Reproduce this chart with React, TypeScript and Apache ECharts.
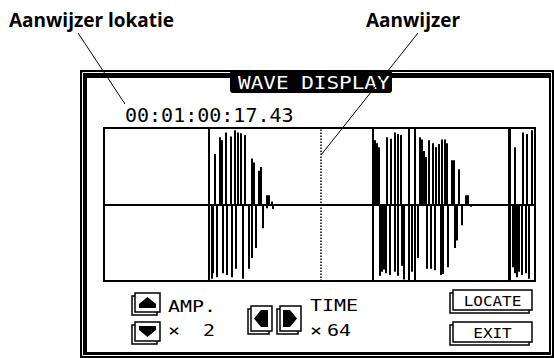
import React, { useEffect, useRef } from "react";
import * as echarts from "echarts";

// Waveform samples: time = pixel column inside the display window (0..431), amplitude -1..1
const upTimes = [111, 116, 118, 122, 127, 131, 134, 137, 141, 148, 150, 155, 157, 163, 165, 168,
  271, 273, 275, 283, 287, 291, 294, 297, 316, 318, 320, 322, 325, 329, 332, 335, 338, 341, 343, 348, 350, 355, 362, 364,
  411, 419, 423, 428];
const upAmps = [0.66, 0.88, 0.84, 0.94, 0.89, 0.97, 0.94, 0.93, 0.91, 0.6, 0.55, 0.44, 0.49, 0.12, 0.12, 0.04,
  0.84, 0.8, 0.75, 0.88, 0.86, 0.94, 0.92, 0.91, 0.88, 0.85, 0.7, 0.62, 0.84, 0.8, 0.75, 0.79, 0.85, 0.85, 0.8, 0.58, 0.58, 0.46, 0.12, 0.12,
  0.75, 0.94, 0.92, 0.97];
const downTimes = [108, 109, 113, 119, 123, 128, 132, 139, 145, 148, 152, 159, 163, 169,
  276, 278, 280, 282, 286, 291, 294, 298, 300, 308, 314, 323, 327, 331, 337, 339, 344, 351, 353, 358, 367,
  409, 411, 413, 415, 418, 422, 425];
const downAmps = [-0.97, -0.9, -0.95, -0.9, -0.92, -0.95, -0.84, -0.97, -0.84, -0.7, -0.57, -0.31, -0.05, -0.06,
  -0.93, -0.88, -0.85, -0.9, -0.92, -0.88, -0.93, -0.8, -0.98, -0.88, -0.7, -0.84, -0.84, -0.86, -0.92, -0.91, -0.82, -0.57, -0.47, -0.27, -0.03,
  -0.82, -0.9, -0.95, -0.88, -0.92, -0.9, -0.97];
const clipEdges = [105, 269, 305, 311, 405, 406];
const cursorTime = 217;
const timeMax = 431;

const timecode = "00:01:00:17.43";
const titleText = "WAVE DISPLAY";
const labelLocation = "Aanwijzer lokatie";
const labelCursor = "Aanwijzer";
const ampLabel = "AMP.";
const ampValue = "2";
const timeLabel = "TIME";
const timeValue = "64";

const LCD = "'DejaVu Sans Mono', monospace";

function lcdText(x: number, y: number, text: string, size: number, sy: number, fill = "#000", align = "left") {
  return {
    type: "text",
    x,
    y,
    scaleY: sy,
    z: 50,
    style: { text, fill, fontFamily: LCD, fontSize: size, textAlign: align, textVerticalAlign: "middle", verticalAlign: "middle" },
  };
}

function button(x: number, y: number, w: number, h: number) {
  return [
    { type: "rect", z: 20, shape: { x: x - 3, y: y + 3, width: w, height: h }, style: { fill: "#fff", stroke: "#000", lineWidth: 1.5 } },
    { type: "rect", z: 21, shape: { x, y, width: w, height: h }, style: { fill: "#fff", stroke: "#000", lineWidth: 1.5 } },
  ];
}

export default function App() {
  const ref = useRef<HTMLDivElement>(null);
  useEffect(() => {
    if (!ref.current) return;
    const chart = echarts.init(ref.current, undefined, { renderer: "svg" });
    const up = upTimes.map((t, i) => [t, upAmps[i]]);
    const down = downTimes.map((t, i) => [t, downAmps[i]]);
    const edges: number[][] = [];
    clipEdges.forEach((t) => { edges.push([t, 1]); edges.push([t, -1]); });

    const graphic: any[] = [
      // LCD frame
      { type: "rect", z: -10, shape: { x: 80, y: 70, width: 474, height: 288 }, style: { fill: "#000" } },
      { type: "rect", z: -9, shape: { x: 82.5, y: 72.5, width: 469, height: 283 }, style: { fill: "none", stroke: "#fff", lineWidth: 1 } },
      { type: "rect", z: -8, shape: { x: 87, y: 78, width: 462, height: 274 }, style: { fill: "#fff" } },
      // title tab
      { type: "rect", z: 30, shape: { x: 230, y: 71, width: 162, height: 22, r: [0, 0, 3, 3] }, style: { fill: "#000" } },
      lcdText(238, 83, titleText, 21, 0.8, "#fff"),
      lcdText(125, 114.5, timecode, 20, 1),
      // amp buttons
      ...button(135, 293, 25, 19),
      ...button(135, 322, 25, 19),
      { type: "polygon", z: 25, shape: { points: [[139, 308], [139, 304], [147.5, 297], [156, 304], [156, 308]] }, style: { fill: "#000" } },
      { type: "polygon", z: 25, shape: { points: [[139, 326], [156, 326], [156, 330], [147.5, 337], [139, 330]] }, style: { fill: "#000" } },
      lcdText(168, 307, ampLabel, 20, 0.75),
      lcdText(168, 331, "×", 20, 0.75),
      lcdText(203, 331, ampValue, 20, 0.75),
      // time buttons
      ...button(251, 306, 21, 25),
      ...button(280, 306, 21, 25),
      { type: "polygon", z: 25, shape: { points: [[254, 318.5], [261, 310], [268, 310], [268, 327], [261, 327]] }, style: { fill: "#000" } },
      { type: "polygon", z: 25, shape: { points: [[297, 318.5], [290, 310], [283, 310], [283, 327], [290, 327]] }, style: { fill: "#000" } },
      lcdText(310, 306, timeLabel, 20, 0.75),
      lcdText(310, 331, "×", 20, 0.75),
      lcdText(327, 331, timeValue, 20, 0.75),
      // LOCATE / EXIT
      ...button(453, 290, 79, 20),
      ...button(453, 322, 79, 20),
      lcdText(492.5, 300.5, "LOCATE", 16, 0.85, "#000", "center"),
      lcdText(492.5, 332.5, "EXIT", 16, 0.85, "#000", "center"),
      // callouts
      { type: "text", z: 60, x: 9, y: 20, style: { text: labelLocation, fill: "#000", fontFamily: "'Open Sans', sans-serif", fontWeight: 700, fontSize: 19, textVerticalAlign: "middle", verticalAlign: "middle" } },
      { type: "text", z: 60, x: 366, y: 20, style: { text: labelCursor, fill: "#000", fontFamily: "'Open Sans', sans-serif", fontWeight: 700, fontSize: 19, textVerticalAlign: "middle", verticalAlign: "middle" } },
      { type: "line", z: 60, shape: { x1: 78, y1: 33, x2: 125, y2: 104 }, style: { stroke: "#000", lineWidth: 1 } },
      { type: "line", z: 60, shape: { x1: 418, y1: 33, x2: 321, y2: 155 }, style: { stroke: "#000", lineWidth: 1 } },
    ];

    chart.setOption({
      animation: false,
      grid: { left: 104, top: 128, width: 431, height: 153, show: true, borderColor: "#000", borderWidth: 2, backgroundColor: "transparent", z: 5 },
      xAxis: {
        type: "value", min: 0, max: timeMax,
        axisLine: { show: true, onZero: true, lineStyle: { color: "#000", width: 2 } },
        axisTick: { show: false }, axisLabel: { show: false }, splitLine: { show: false },
      },
      yAxis: { type: "value", min: -1, max: 1, show: false, splitLine: { show: false } },
      series: [
        {
          type: "bar", data: up, barWidth: 2, itemStyle: { color: "#000" }, z: 10,
          markLine: {
            silent: true, symbol: "none", label: { show: false },
            lineStyle: { color: "#000", type: [1.5, 1.5], width: 1.5 },
            data: [{ xAxis: cursorTime }],
          },
        },
        { type: "bar", data: down, barWidth: 2, barGap: "-100%", itemStyle: { color: "#000" }, z: 10 },
        { type: "bar", data: edges, barWidth: 2, barGap: "-100%", itemStyle: { color: "#000" }, z: 10 },
      ],
      graphic,
    });
    return () => chart.dispose();
  }, []);
  return <div ref={ref} style={{ position: "absolute", left: 0, top: 0, width: 554, height: 358, background: "#fff" }} />;
}
